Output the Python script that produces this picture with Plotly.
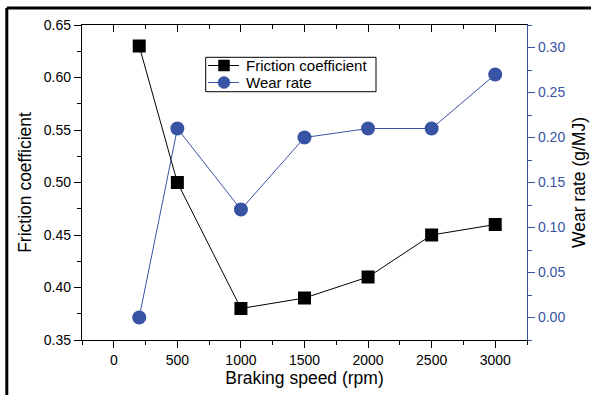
import plotly.graph_objects as go

speed = [200, 500, 1000, 1500, 2000, 2500, 3000]
friction = [0.63, 0.50, 0.38, 0.39, 0.41, 0.45, 0.46]
wear = [0.00, 0.21, 0.12, 0.20, 0.21, 0.21, 0.27]
series_names = ["Friction coefficient", "Wear rate"]

BLUE = "#3953a4"
FONT = "Liberation Sans, Arial, sans-serif"

fig = go.Figure()
fig.add_trace(go.Scatter(
    x=speed, y=friction, name=series_names[0], mode="lines+markers",
    line=dict(color="black", width=1),
    marker=dict(symbol="square", size=13, color="black"), showlegend=False,
))
fig.add_trace(go.Scatter(
    x=speed, y=wear, name=series_names[1], mode="lines+markers", yaxis="y2",
    line=dict(color=BLUE, width=1),
    marker=dict(symbol="circle", size=14, color=BLUE), showlegend=False,
))
# invisible trace to activate top axis
fig.add_trace(go.Scatter(x=[speed[0]], y=[friction[0]], xaxis="x2", mode="markers",
                         marker=dict(opacity=0), showlegend=False, hoverinfo="skip"))

axis_common = dict(showgrid=False, zeroline=False, showline=True, linewidth=1.3,
                   ticks="outside", ticklen=7, tickwidth=1.2, automargin=False)

# manual legend (paper coordinates)
L = 82; T = 25; W = 445; H = 315
def px(x): return (x - L) / W
def py(y): return (T + H - y) / H

shapes = [
    dict(type="line", xref="paper", yref="paper", x0=-0.169, x1=1.2, y0=1.054, y1=1.054,
         line=dict(color="black", width=3)),
    dict(type="line", xref="paper", yref="paper", x0=-0.169, x1=-0.169, y0=1.054, y1=-0.3,
         line=dict(color="black", width=3)),
    dict(type="rect", xref="paper", yref="paper", x0=px(205.7), x1=px(376), y0=py(91.7), y1=py(57.3),
         line=dict(color="black", width=1), fillcolor="white", layer="above"),
]
annotations = []
rows = [(65.5, "black", "rect"), (82.5, BLUE, "circle")]
for (yc, col, kind), name in zip(rows, series_names):
    shapes.append(dict(type="line", xref="paper", yref="paper", x0=px(208), x1=px(239),
                       y0=py(yc), y1=py(yc), line=dict(color=col, width=1), layer="above"))
    r = 5.5 if kind == "rect" else 6
    shapes.append(dict(type=kind, xref="paper", yref="paper", x0=px(224 - r), x1=px(224 + r),
                       y0=py(yc + r), y1=py(yc - r), line=dict(color=col, width=0.5),
                       fillcolor=col, layer="above"))
    annotations.append(dict(xref="paper", yref="paper", x=px(244), y=py(yc), text=name,
                            showarrow=False, xanchor="left", yanchor="middle",
                            font=dict(size=15, color="black")))

fig.update_layout(
    width=591, height=395,
    margin=dict(l=L, r=591 - L - W, t=T, b=395 - T - H),
    paper_bgcolor="white", plot_bgcolor="white",
    font=dict(family=FONT, size=14, color="black"),
    showlegend=False,
    xaxis=dict(**axis_common, range=[-250, 3250], tickvals=[0, 500, 1000, 1500, 2000, 2500, 3000],
               linecolor="black", tickcolor="black",
               minor=dict(tickvals=[-250, 250, 750, 1250, 1750, 2250, 2750, 3250],
                          ticks="outside", ticklen=4, tickcolor="black"),
               title=dict(text="Braking speed (rpm)", font=dict(size=17.5), standoff=4)),
    xaxis2=dict(overlaying="x", side="top", range=[-250, 3250], showgrid=False, zeroline=False,
                showline=True, linewidth=1.3, linecolor="black", automargin=False,
                ticks="inside", ticklen=7, tickwidth=1.2, tickcolor="black",
                tickvals=[0, 500, 1000, 1500, 2000, 2500, 3000], showticklabels=False,
                minor=dict(tickvals=[-250, 250, 750, 1250, 1750, 2250, 2750, 3250],
                           ticks="inside", ticklen=4, tickcolor="black")),
    yaxis=dict(**axis_common, range=[0.35, 0.65], tickvals=[0.35, 0.40, 0.45, 0.50, 0.55, 0.60, 0.65],
               tickformat=".2f", linecolor="black", tickcolor="black",
               minor=dict(tickvals=[0.375, 0.425, 0.475, 0.525, 0.575, 0.625],
                          ticks="outside", ticklen=4, tickcolor="black"),
               title=dict(text="Friction coefficient", font=dict(size=17.5), standoff=7)),
    yaxis2=dict(**axis_common, overlaying="y", side="right", range=[-0.025, 0.325],
                tickvals=[0.0, 0.05, 0.10, 0.15, 0.20, 0.25, 0.30], tickformat=".2f",
                linecolor=BLUE, tickcolor=BLUE, tickfont=dict(color=BLUE),
                minor=dict(tickvals=[-0.025, 0.025, 0.075, 0.125, 0.175, 0.225, 0.275, 0.325],
                           ticks="outside", ticklen=4, tickcolor=BLUE),
                title=dict(text="Wear rate (g/MJ)", font=dict(size=17.5, color="black"), standoff=8)),
    shapes=shapes,
    annotations=annotations,
)

fig.write_html("out.html")
